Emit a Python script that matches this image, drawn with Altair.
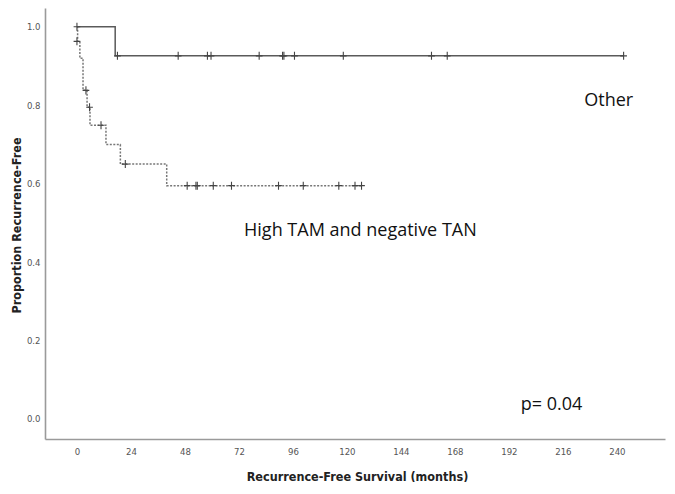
import altair as alt
import pandas as pd

# ---- data ----
other_t = [0, 17, 243]
other_s = [1.0, 0.926, 0.926]
other_cens_t = [0, 18, 45, 58, 59.6, 81, 91.4, 92, 96.7, 118.4, 157.6, 164.6, 243]
other_cens_s = [1.0, 0.926, 0.926, 0.926, 0.926, 0.926, 0.926, 0.926, 0.926, 0.926, 0.926, 0.926, 0.926]

high_t = [0, 0.3, 1.3, 2.7, 4.5, 5.8, 12.9, 19.3, 39.9, 126.5]
high_s = [1.0, 0.963, 0.92, 0.838, 0.795, 0.749, 0.70, 0.65, 0.595, 0.595]
high_cens_t = [0, 4, 5.6, 10.7, 21.5, 49, 52.9, 53.5, 60.6, 68.7, 89.6, 100.6, 116.4, 123.6, 126.5]
high_cens_s = [0.963, 0.838, 0.795, 0.749, 0.65, 0.595, 0.595, 0.595, 0.595, 0.595, 0.595, 0.595, 0.595, 0.595, 0.595]

x_ticks = [0, 24, 48, 72, 96, 120, 144, 168, 192, 216, 240]
y_ticks = [0.0, 0.2, 0.4, 0.6, 0.8, 1.0]

ann_text = ["Other", "High TAM and negative TAN", "p= 0.04"]
ann_x = [236.4, 126.0, 211.0]
ann_y = [0.812, 0.48, 0.036]

groups = ["Other", "High TAM and negative TAN"]

lines = pd.DataFrame(
    {"t": other_t + high_t,
     "s": other_s + high_s,
     "g": [groups[0]] * len(other_t) + [groups[1]] * len(high_t)}
)
cens = pd.DataFrame(
    {"t": other_cens_t + high_cens_t,
     "s": other_cens_s + high_cens_s,
     "g": [groups[0]] * len(other_cens_t) + [groups[1]] * len(high_cens_t)}
)
ann = pd.DataFrame({"text": ann_text, "t": ann_x, "s": ann_y})

xscale = alt.Scale(domain=[-14.2, 261.4], nice=False, zero=False)
yscale = alt.Scale(domain=[-0.051, 1.048], nice=False, zero=False)

xaxis = alt.Axis(values=x_ticks, title="Recurrence-Free Survival (months)",
                 ticks=False, grid=False, labelPadding=7,
                 titleX=312, titleY=37, titleBaseline="middle", titleAlign="center")
yaxis = alt.Axis(values=y_ticks, format=".1f", title="Proportion Recurrence-Free",
                 ticks=False, grid=False, labelPadding=5,
                 titleX=-29, titleY=217, titleAngle=-90, titleAlign="center",
                 titleBaseline="middle")

line_layer = alt.Chart(lines).mark_line(interpolate="step-after", strokeWidth=1.5).encode(
    x=alt.X("t:Q", scale=xscale, axis=xaxis),
    y=alt.Y("s:Q", scale=yscale, axis=yaxis),
    color=alt.Color("g:N", scale=alt.Scale(domain=groups, range=["#5a5a5a", "#777777"]), legend=None),
    strokeDash=alt.StrokeDash("g:N", scale=alt.Scale(domain=groups, range=[[1, 0], [2, 1.5]]), legend=None),
)

cens_layer = alt.Chart(cens).mark_point(
    shape="M-1,0H1M0,-1.2V1.2", size=45, filled=False, strokeWidth=1.1, color="#444444", opacity=1
).encode(
    x=alt.X("t:Q", scale=xscale),
    y=alt.Y("s:Q", scale=yscale),
)

ann_layer = alt.Chart(ann).mark_text(font="Open Sans", fontSize=18, color="#111111",
                                     align="center", baseline="middle").encode(
    x=alt.X("t:Q", scale=xscale),
    y=alt.Y("s:Q", scale=yscale),
    text="text:N",
)

chart = alt.layer(line_layer, cens_layer, ann_layer).properties(
    width=620, height=431,
    autosize=alt.AutoSizeParams(type="none"),
    padding={"left": 37, "top": 0, "right": 2, "bottom": 43},
).configure_view(stroke=None).configure_axis(
    domainColor="#9a9a9a", domainWidth=1.6,
    labelFont="DejaVu Sans Condensed", labelFontSize=9.5, labelColor="#555555",
    titleFont="DejaVu Sans Condensed", titleFontSize=12.5, titleFontWeight="bold",
    titleColor="#222222",
)

chart.save("out.html", embed_options={"renderer": "svg", "actions": False})
